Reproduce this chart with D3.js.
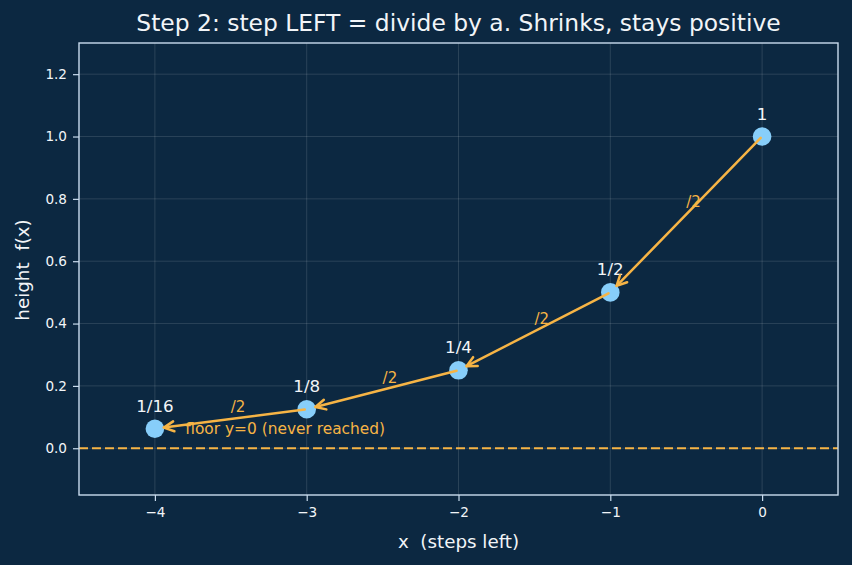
<!DOCTYPE html>
<html>
<head>
<meta charset="utf-8">
<script src="https://cdn.jsdelivr.net/npm/d3@7"></script>
<style>
  html, body { margin: 0; padding: 0; background: #0c2841; }
  svg { display: block; font-family: "DejaVu Sans", sans-serif; }
</style>
</head>
<body>
<svg id="chart" width="852" height="565"></svg>
<script>
// data
const xs = [0, -1, -2, -3, -4];
const heights = [1, 0.5, 0.25, 0.125, 0.0625];
const pointLabels = ['1', '1/2', '1/4', '1/8', '1/16'];
const stepLabel = '/2';
const xTicks = [-4, -3, -2, -1, 0];
const yTicks = [0, 0.2, 0.4, 0.6, 0.8, 1.0, 1.2];
const floorY = 0;
const floorText = 'floor y=0 (never reached)';
const floorTextPos = [-3.8, 0.06];

const theme = {
    bg: '#0c2841',
    text: '#f2f5f8',
    spine: '#c9dcee',
    grid: 'rgba(255,255,255,0.16)',
    accent: '#f6b445',
    dot: '#87cefa'
};

const W = 852, H = 565;
const margin = {left: 79, right: 14, top: 43, bottom: 70};
const pw = W - margin.left - margin.right;
const ph = H - margin.top - margin.bottom;

const svg = d3.select('#chart');
svg.append('rect').attr('width', W).attr('height', H).attr('fill', theme.bg);

const x = d3.scaleLinear().domain([-4.5, 0.5]).range([0, pw]);
const y = d3.scaleLinear().domain([-0.15, 1.3]).range([ph, 0]);

const g = svg.append('g').attr('transform', `translate(${margin.left},${margin.top})`);

// grid
g.append('g')
    .selectAll('line.vg')
    .data(xTicks)
    .enter()
    .append('line')
    .attr('x1', d => x(d)).attr('x2', d => x(d))
    .attr('y1', 0).attr('y2', ph)
    .attr('stroke', theme.grid).attr('stroke-width', 0.8);
g.append('g')
    .selectAll('line.hg')
    .data(yTicks)
    .enter()
    .append('line')
    .attr('y1', d => y(d)).attr('y2', d => y(d))
    .attr('x1', 0).attr('x2', pw)
    .attr('stroke', theme.grid).attr('stroke-width', 0.8);

// floor line
g.append('line')
    .attr('x1', 0).attr('x2', pw)
    .attr('y1', y(floorY)).attr('y2', y(floorY))
    .attr('stroke', theme.accent)
    .attr('stroke-width', 2)
    .attr('stroke-dasharray', '9,4');

// axes
const xAxis = g.append('g')
    .attr('transform', `translate(0,${ph})`)
    .call(d3.axisBottom(x).tickValues(xTicks).tickFormat(d3.format('d')).tickSize(6).tickPadding(6));
const yAxis = g.append('g')
    .call(d3.axisLeft(y).tickValues(yTicks).tickFormat(d3.format('.1f')).tickSize(6).tickPadding(6));
[xAxis, yAxis].forEach(a => {
    a.select('.domain').remove();
    a.selectAll('.tick line').attr('stroke', theme.spine).attr('stroke-width', 1.2);
    a.selectAll('.tick text')
        .attr('fill', theme.text)
        .style('font-family', '"DejaVu Sans", sans-serif')
        .style('font-size', '13.6px');
});

// frame
g.append('rect')
    .attr('width', pw).attr('height', ph)
    .attr('fill', 'none')
    .attr('stroke', theme.spine)
    .attr('stroke-width', 1.4);

// points
g.selectAll('circle.pt')
    .data(xs)
    .enter()
    .append('circle')
    .attr('cx', d => x(d))
    .attr('cy', (d, i) => y(heights[i]))
    .attr('r', 9.3)
    .attr('fill', theme.dot);

// point labels
g.selectAll('text.pl')
    .data(pointLabels)
    .enter()
    .append('text')
    .attr('x', (d, i) => x(xs[i]))
    .attr('y', (d, i) => y(heights[i]) - 17)
    .attr('text-anchor', 'middle')
    .attr('fill', theme.text)
    .style('font-size', '16.7px')
    .text(d => d);

// arrows: each step left halves the height
const arrows = g.append('g')
    .attr('stroke', theme.accent)
    .attr('stroke-width', 2.5)
    .attr('fill', 'none')
    .attr('stroke-linecap', 'round')
    .attr('stroke-linejoin', 'round');

for (let i = 0; i < xs.length - 1; i++) {
    const x0 = x(xs[i]), y0 = y(heights[i]);
    const x1 = x(xs[i + 1]), y1 = y(heights[i + 1]);
    const dx = x1 - x0, dy = y1 - y0;
    const len = Math.hypot(dx, dy);
    const ux = dx / len, uy = dy / len;
    const sx = x0 + ux * 2, sy = y0 + uy * 2;
    const ex = x1 - ux * 9, ey = y1 - uy * 9;
    arrows.append('line')
        .attr('x1', sx).attr('y1', sy)
        .attr('x2', ex).attr('y2', ey);
    // open head "->"
    const hl = 10, hw = 5;
    const bx = ex - ux * hl, by = ey - uy * hl;
    arrows.append('path')
        .attr('d', `M${bx - uy * hw},${by + ux * hw}L${ex},${ey}L${bx + uy * hw},${by - ux * hw}`);

    // step label
    g.append('text')
        .attr('x', x((xs[i] + xs[i + 1]) / 2))
        .attr('y', y((heights[i] + heights[i + 1]) / 2) - 7)
        .attr('fill', theme.accent)
        .style('font-size', '15px')
        .text(stepLabel);
}

// floor note
g.append('text')
    .attr('x', x(floorTextPos[0]))
    .attr('y', y(floorTextPos[1]))
    .attr('dy', '0.3em')
    .attr('fill', theme.accent)
    .style('font-size', '15.4px')
    .text(floorText);

// title and axis labels
svg.append('text')
    .attr('x', margin.left + pw / 2)
    .attr('y', 31)
    .attr('text-anchor', 'middle')
    .attr('fill', theme.text)
    .style('font-size', '23.4px')
    .text('Step 2: step LEFT = divide by a. Shrinks, stays positive');

svg.append('text')
    .attr('x', margin.left + pw / 2)
    .attr('y', 548)
    .attr('text-anchor', 'middle')
    .attr('fill', theme.text)
    .style('font-size', '18.3px')
    .style('white-space', 'pre')
    .text('x  (steps left)');

svg.append('text')
    .attr('transform', `translate(29,${margin.top + ph / 2 + 1}) rotate(-90)`)
    .attr('text-anchor', 'middle')
    .attr('fill', theme.text)
    .style('font-size', '18.3px')
    .style('white-space', 'pre')
    .text('height  f(x)');
</script>
</body>
</html>
